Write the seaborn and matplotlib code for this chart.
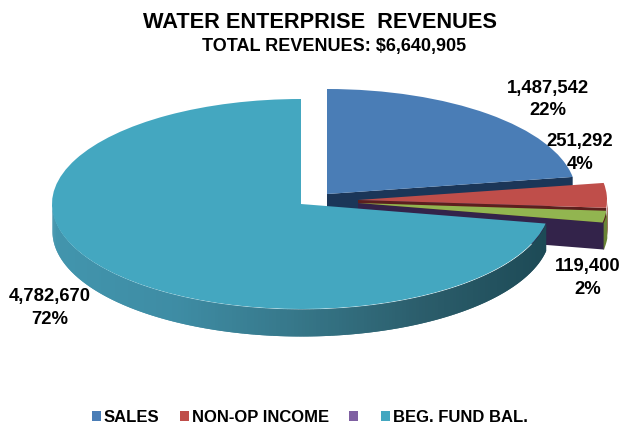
import numpy as np
import matplotlib
matplotlib.use("Agg")
import matplotlib.pyplot as plt
from matplotlib.colors import LinearSegmentedColormap
from matplotlib.patches import Patch, Polygon
import seaborn as sns

sns.set_theme(style="white")
plt.rcParams["font.family"] = ["Liberation Sans", "DejaVu Sans"]

# Revenue sources, clockwise from twelve o'clock
slice_values = [1487542, 251292, 119400, 4782670]
value_labels = ["1,487,542\n22%", "251,292\n4%", "119,400\n2%", "4,782,670\n72%"]
legend_names = ["SALES", "NON-OP INCOME", "", "BEG. FUND BAL."]

top_colors = ["#4a7db6", "#bf4e4a", "#92b550", "#44a7c0"]
cut_colors = ["#1b3658", "#5c1f1e", "#33234a", "#1d4a56"]
rim_colors = ["#3a6390", "#8c3532", "#6a8436", "#3f93ab"]
legend_colors = ["#4a7db6", "#bf4e4a", "#7f60a2", "#44a7c0"]

# Pie geometry in pixels of the 621x428 canvas
W, H = 621, 428
RX, RY = 249, 105
DEPTH = 27
centres_px = [(327, 194), (358, 200), (358, 203), (301, 204)]


def to_data(px, py):
    return (px - 301) / RX, (204 - py) / RY


fig = plt.figure(figsize=(W / 100, H / 100), dpi=100, facecolor="white")
ax = fig.add_axes([0, 0, 1, 1])

wedges, _ = ax.pie(slice_values, colors=top_colors, startangle=90,
                   counterclock=False, radius=1)
ax.set_aspect("auto")
ax.set_xlim(*[to_data(x, 0)[0] for x in (0, W)])
ax.set_ylim(*[to_data(0, y)[1] for y in (H, 0)])
ax.axis("off")

depth = DEPTH / RY
shade = LinearSegmentedColormap.from_list(
    "rim", ["#4295ad", "#3e8ca4", "#367688", "#2b5d6b", "#1d4a56"])

for i, wedge in enumerate(wedges):
    cx, cy = to_data(*centres_px[i])
    wedge.set_center((cx, cy))
    wedge.set_linewidth(0)
    wedge.set_zorder(10 + 3 * i + 2)
    t1, t2 = wedge.theta1, wedge.theta2

    # Straight cut face along the clockwise edge of the slice
    if i < 3:
        ex, ey = cx + np.cos(np.radians(t1)), cy + np.sin(np.radians(t1))
        overlap = 0.006 if i == 2 else 0.0
        ax.add_patch(Polygon([(cx, cy), (ex + overlap, ey), (ex + overlap, ey - depth), (cx, cy - depth)],
                             closed=True, facecolor=cut_colors[i], linewidth=0,
                             zorder=10 + 3 * i))

    # Curved outer rim, only where it faces the viewer
    if i in (1, 2):
        theta = np.radians(np.linspace(t1, min(t2, 0.5), 8))
        rim_x = cx + np.cos(theta) * 1.002
        rim_y = cy + np.sin(theta)
        ax.fill_between(rim_x, rim_y, rim_y - depth, color=rim_colors[i],
                        linewidth=0, zorder=10 + 3 * i + 1)
    elif i == 3:
        theta = np.radians(np.linspace(-180, t2, 200))
        xs = cx + np.cos(theta)
        ys = cy + np.sin(theta)
        for k in range(len(theta) - 1):
            frac = (xs[k] - xs.min()) / (xs.max() - xs.min())
            seg_x = xs[k:k + 3]
            seg_y = ys[k:k + 3]
            ax.fill_between(seg_x, seg_y, seg_y - depth, color=shade(frac),
                            linewidth=0, zorder=10 + 3 * i + 1)

# Titles
fig.text(320 / W, 1 - 22 / H, "WATER ENTERPRISE  REVENUES", ha="center", va="center",
         fontsize=15.7, fontweight="bold", color="black")
fig.text(334.5 / W, 1 - 46 / H, "TOTAL REVENUES: $6,640,905", ha="center", va="center",
         fontsize=13, fontweight="bold", color="black")

# Value labels beside each slice
label_pos = [(548, 99.5), (580, 153), (588, 278), (50, 308)]
for (lx, ly), text in zip(label_pos, value_labels):
    fig.text(lx / W, 1 - ly / H, text, ha="center", va="center", fontsize=13.3,
             fontweight="bold", color="black", linespacing=1.4, zorder=40)

handles = [Patch(facecolor=c, edgecolor="none") for c in legend_colors]
fig.legend(handles, legend_names, loc="center left",
           bbox_to_anchor=(92 / W, 1 - 417 / H), ncol=4, frameon=False,
           prop={"size": 12, "weight": "bold"}, handlelength=0.54, handleheight=0.54,
           handletextpad=0.18, columnspacing=1.2, borderpad=0, borderaxespad=0,
           labelcolor="black")

fig.savefig("out.png", dpi=100, facecolor="white")
